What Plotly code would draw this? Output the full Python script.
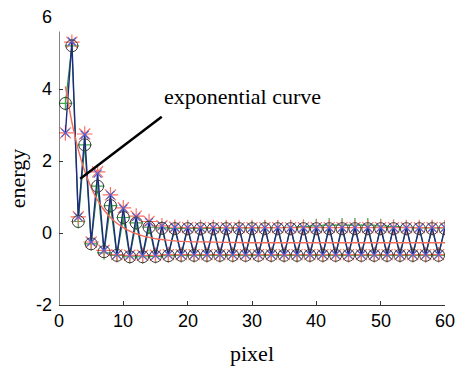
import plotly.graph_objects as go

# ---- data ----
pixel = list(range(1, 61))

# black circles (reference values)
circle_vals = [3.60, 5.20, 0.32, 2.45, -0.30, 1.30, -0.52, 0.76, -0.62, 0.43,
               -0.66, 0.28, -0.66, 0.16, -0.65, 0.13, -0.63, 0.12, -0.62, 0.12,
               -0.62, 0.12, -0.62, 0.12, -0.62, 0.12, -0.62, 0.12, -0.62, 0.12,
               -0.62, 0.12, -0.62, 0.12, -0.62, 0.12, -0.62, 0.12, -0.62, 0.12,
               -0.62, 0.12, -0.62, 0.12, -0.62, 0.12, -0.62, 0.12, -0.62, 0.12,
               -0.62, 0.12, -0.62, 0.12, -0.62, 0.12, -0.62, 0.12, -0.62, 0.12]

# green plus markers
green_vals = [3.60, 5.20, 0.32, 2.45, -0.30, 1.30, -0.55, 0.76, -0.62, 0.43,
              -0.66, 0.28, -0.66, 0.16, -0.65, 0.14, -0.63, 0.13, -0.62, 0.13,
              -0.62, 0.13, -0.62, 0.13, -0.62, 0.14, -0.62, 0.14, -0.62, 0.14,
              -0.62, 0.15, -0.62, 0.15, -0.62, 0.16, -0.62, 0.18, -0.62, 0.20,
              -0.62, 0.22, -0.62, 0.22, -0.62, 0.22, -0.62, 0.22, -0.62, 0.20,
              -0.62, 0.18, -0.62, 0.16, -0.62, 0.14, -0.62, 0.14, -0.62, 0.14]

# blue x markers
blue_vals = [2.78, 5.32, 0.45, 2.73, -0.25, 1.65, -0.48, 1.05, -0.60, 0.68,
             -0.62, 0.45, -0.62, 0.30, -0.62, 0.20, -0.60, 0.16, -0.60, 0.15,
             -0.60, 0.15, -0.60, 0.15, -0.60, 0.15, -0.60, 0.15, -0.60, 0.15,
             -0.60, 0.15, -0.60, 0.15, -0.60, 0.15, -0.60, 0.15, -0.60, 0.15,
             -0.60, 0.15, -0.60, 0.15, -0.60, 0.15, -0.60, 0.15, -0.60, 0.15,
             -0.60, 0.15, -0.60, 0.15, -0.60, 0.15, -0.60, 0.15, -0.60, 0.15]

# red asterisk markers
red_vals = [2.78, 5.30, 0.45, 2.75, -0.25, 1.70, -0.48, 1.06, -0.60, 0.70,
            -0.62, 0.47, -0.62, 0.32, -0.62, 0.20, -0.60, 0.16, -0.60, 0.15,
            -0.60, 0.15, -0.60, 0.15, -0.60, 0.15, -0.60, 0.15, -0.60, 0.15,
            -0.60, 0.15, -0.60, 0.15, -0.60, 0.15, -0.60, 0.15, -0.60, 0.15,
            -0.60, 0.15, -0.60, 0.15, -0.60, 0.15, -0.60, 0.15, -0.60, 0.15,
            -0.60, 0.15, -0.60, 0.15, -0.60, 0.15, -0.60, 0.15, -0.60, 0.15]

# red exponential curve
curve_x = [1, 2, 3, 4, 5, 6, 7, 8, 9, 10, 11, 12, 13, 14, 15, 16, 18, 20, 23, 26, 30, 40, 50, 60]
curve_y = [4.07, 3.08, 2.31, 1.72, 1.26, 0.91, 0.64, 0.43, 0.27, 0.15, 0.05, -0.02,
           -0.08, -0.12, -0.16, -0.18, -0.22, -0.24, -0.25, -0.26, -0.27, -0.27, -0.27, -0.27]

x_ticks = [0, 10, 20, 30, 40, 50, 60]
x_tick_labels = ["0", "10", "20", "30", "40", "50", "60"]
y_ticks = [-2, 0, 2, 4, 6]
y_tick_labels = ["-2", "0", "2", "4", "6"]

fig = go.Figure()

fig.add_trace(go.Scatter(x=pixel, y=green_vals, mode="lines+markers",
                         line=dict(color="#2f8f3a", width=1.2),
                         marker=dict(symbol="cross-thin-open", size=10, color="#3cab45",
                                     line=dict(color="#3cab45", width=1.2)),
                         showlegend=False))
fig.add_trace(go.Scatter(x=pixel, y=red_vals, mode="markers",
                         marker=dict(symbol="asterisk-open", size=13, color="#ff6f63",
                                     line=dict(color="#ff6f63", width=1.2)),
                         showlegend=False))
fig.add_trace(go.Scatter(x=pixel, y=blue_vals, mode="lines+markers",
                         line=dict(color="#1c2a80", width=1.4),
                         marker=dict(symbol="x-thin-open", size=8, color="#4a63d8",
                                     line=dict(color="#4a63d8", width=1.2)),
                         showlegend=False))
fig.add_trace(go.Scatter(x=curve_x, y=curve_y, mode="lines", line_shape="spline",
                         line=dict(color="#f46a58", width=1.4), showlegend=False))
fig.add_trace(go.Scatter(x=pixel, y=circle_vals, mode="markers",
                         marker=dict(symbol="circle-open", size=12, color="#3a3a3a",
                                     line=dict(color="#3a3a3a", width=1)),
                         showlegend=False))

# y axis line (stops below the top tick, as in the reference)
fig.add_shape(type="line", xref="x", yref="y", x0=0, x1=0, y0=-2, y1=5.6,
              line=dict(color="#333333", width=1.2))

# annotation pointer line
fig.add_shape(type="line", xref="x", yref="y", x0=3.3, y0=1.51, x1=15.97, y1=3.23,
              line=dict(color="black", width=2.5))
fig.add_annotation(x=16.0, y=3.78, xref="x", yref="y", text="exponential curve",
                   showarrow=False, xanchor="left", yanchor="middle",
                   font=dict(family="Liberation Serif, Times New Roman, serif",
                             size=22, color="black"))

tick_font = dict(family="Liberation Sans, Arial, sans-serif", size=18, color="black")

# tick labels placed as in the reference
for v, lab in zip(y_ticks, y_tick_labels):
    fig.add_annotation(x=-0.014, y=v, xref="paper", yref="y", text=lab,
                       showarrow=False, xanchor="right", yanchor="middle",
                       font=tick_font)
for v, lab in zip(x_ticks, x_tick_labels):
    fig.add_annotation(x=v, y=-0.056, xref="x", yref="paper", text=lab,
                       showarrow=False, xanchor="center", yanchor="middle",
                       font=tick_font)

# axis titles
fig.add_annotation(x=0.5, y=-0.167, xref="paper", yref="paper", text="pixel",
                   showarrow=False, xanchor="center", yanchor="middle",
                   font=dict(family="Liberation Serif, Times New Roman, serif",
                             size=22, color="black"))
fig.add_annotation(x=-0.109, y=0.44, xref="paper", yref="paper", text="energy",
                   showarrow=False, textangle=-90, xanchor="center", yanchor="middle",
                   font=dict(family="Liberation Serif, Times New Roman, serif",
                             size=22, color="black"))

fig.update_layout(
    width=455, height=367,
    margin=dict(l=59, r=10, t=17, b=62),
    paper_bgcolor="white", plot_bgcolor="white",
    xaxis=dict(range=[0, 60], tickvals=x_ticks, ticks="inside", ticklen=4,
               tickcolor="#333333", showline=True, linecolor="#333333", linewidth=1.2,
               showgrid=False, zeroline=False, showticklabels=False, automargin=False),
    yaxis=dict(range=[-2, 6], tickvals=y_ticks, ticks="inside", ticklen=4,
               tickcolor="#333333", showline=False, showgrid=False, zeroline=False,
               showticklabels=False, automargin=False),
)

fig.write_html("out.html", post_script="document.body.style.margin='0';",
               config={"displayModeBar": False})
